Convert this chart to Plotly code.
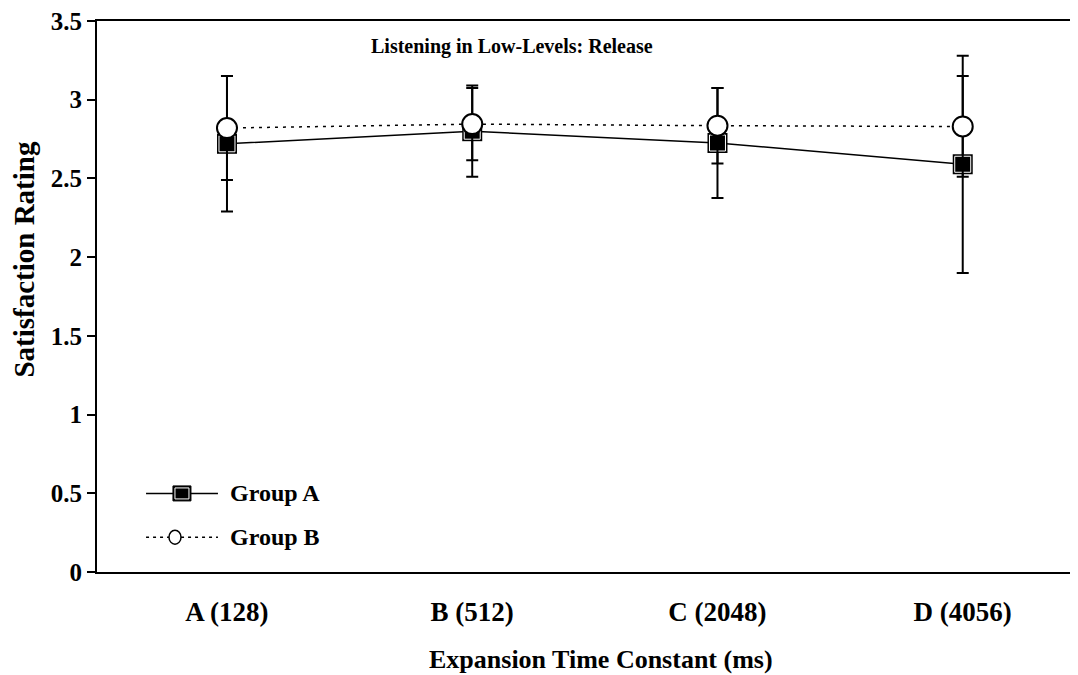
import plotly.graph_objects as go

categories = ["A (128)", "B (512)", "C (2048)", "D (4056)"]
group_a = [2.72, 2.80, 2.725, 2.59]
group_a_err = [0.43, 0.29, 0.35, 0.69]
group_b = [2.82, 2.845, 2.835, 2.83]
group_b_err = [0.33, 0.23, 0.24, 0.32]
y_ticks = [0, 0.5, 1, 1.5, 2, 2.5, 3, 3.5]
y_tick_labels = ["0", "0.5", "1", "1.5", "2", "2.5", "3", "3.5"]

FONT = "Liberation Serif"
BLACK = "#000000"

fig = go.Figure()

# Group A: outer black square + line + error bars
fig.add_trace(go.Scatter(
    x=categories, y=group_a, mode="lines+markers", name="Group A",
    line=dict(color=BLACK, width=1.5),
    marker=dict(symbol="square", size=20, color=BLACK, line=dict(width=0)),
    error_y=dict(type="data", array=group_a_err, visible=True,
                 color=BLACK, thickness=2, width=6),
    showlegend=False,
))
# inner part of the Group A marker (white ring, black fill)
fig.add_trace(go.Scatter(
    x=categories, y=group_a, mode="markers",
    marker=dict(symbol="square", size=16, color=BLACK,
                line=dict(color="white", width=1)),
    showlegend=False, hoverinfo="skip",
))
# Group B
fig.add_trace(go.Scatter(
    x=categories, y=group_b, mode="lines+markers", name="Group B",
    line=dict(color=BLACK, width=1.5, dash="3px,5px"),
    marker=dict(symbol="circle", size=20, color="white",
                line=dict(color=BLACK, width=2)),
    error_y=dict(type="data", array=group_b_err, visible=True,
                 color=BLACK, thickness=2, width=6),
    showlegend=False,
))

# Hand-drawn legend (decoration only)
ya, yb = 0.1426, 0.0632
xl0, xl1 = 0.05, 0.1233
shapes = [
    dict(type="line", xref="paper", yref="paper", x0=xl0, x1=xl1, y0=ya, y1=ya,
         line=dict(color=BLACK, width=1.5)),
    dict(type="rect", xref="paper", yref="paper", xsizemode="pixel", ysizemode="pixel",
         xanchor=0.0866, yanchor=ya, x0=-9, x1=9, y0=-7.5, y1=7.5,
         fillcolor=BLACK, line=dict(color=BLACK, width=1)),
    dict(type="rect", xref="paper", yref="paper", xsizemode="pixel", ysizemode="pixel",
         xanchor=0.0866, yanchor=ya, x0=-7, x1=7, y0=-5.5, y1=5.5,
         fillcolor=BLACK, line=dict(color="white", width=1)),
    dict(type="line", xref="paper", yref="paper", x0=xl0, x1=xl1, y0=yb, y1=yb,
         line=dict(color=BLACK, width=1.5, dash="3px,4px")),
    dict(type="circle", xref="paper", yref="paper", xsizemode="pixel", ysizemode="pixel",
         xanchor=0.0795, yanchor=yb, x0=-6, x1=6, y0=-7, y1=7,
         fillcolor="white", line=dict(color=BLACK, width=1.5)),
]

annotations = [
    dict(text="Listening in Low-Levels: Release", xref="paper", yref="paper",
         x=0.423, y=0.953, xanchor="center", yanchor="middle", showarrow=False,
         font=dict(family=FONT, size=20, color=BLACK, weight="bold")),
    dict(text="Group A", xref="paper", yref="paper", x=0.1335, y=ya,
         xanchor="left", yanchor="middle", showarrow=False,
         font=dict(family=FONT, size=24, color=BLACK, weight="bold")),
    dict(text="Group B", xref="paper", yref="paper", x=0.1335, y=yb,
         xanchor="left", yanchor="middle", showarrow=False,
         font=dict(family=FONT, size=24, color=BLACK, weight="bold")),
    dict(text="Satisfaction Rating", xref="paper", yref="paper", x=0, y=0.567,
         xshift=-73, xanchor="center", yanchor="middle", textangle=-90, showarrow=False,
         font=dict(family=FONT, size=29, color=BLACK, weight="bold")),
    dict(text="Expansion Time Constant (ms)", xref="paper", yref="paper", x=0.514, y=0,
         yshift=-87, xanchor="center", yanchor="middle", showarrow=False,
         font=dict(family=FONT, size=26, color=BLACK, weight="bold")),
]

fig.update_layout(
    width=1070, height=667,
    margin=dict(l=89, r=0, t=10, b=103),
    paper_bgcolor="white", plot_bgcolor="white",
    shapes=shapes, annotations=annotations,
    xaxis=dict(type="category", categoryorder="array", categoryarray=categories,
               range=[-0.53, 3.47], showgrid=False, zeroline=False,
               showline=True, linecolor=BLACK, linewidth=2, mirror=True,
               ticks="", ticklabelstandoff=15,
               tickfont=dict(family=FONT, size=27, color=BLACK, weight="bold")),
    yaxis=dict(range=[0, 3.5], tickvals=y_ticks, ticktext=y_tick_labels,
               showgrid=False, zeroline=False,
               showline=True, linecolor=BLACK, linewidth=2,
               ticks="outside", ticklen=8, tickwidth=2, tickcolor=BLACK,
               ticklabeloverflow="allow",
               tickfont=dict(family=FONT, size=25, color=BLACK, weight="bold")),
)

fig.write_html("out.html")
